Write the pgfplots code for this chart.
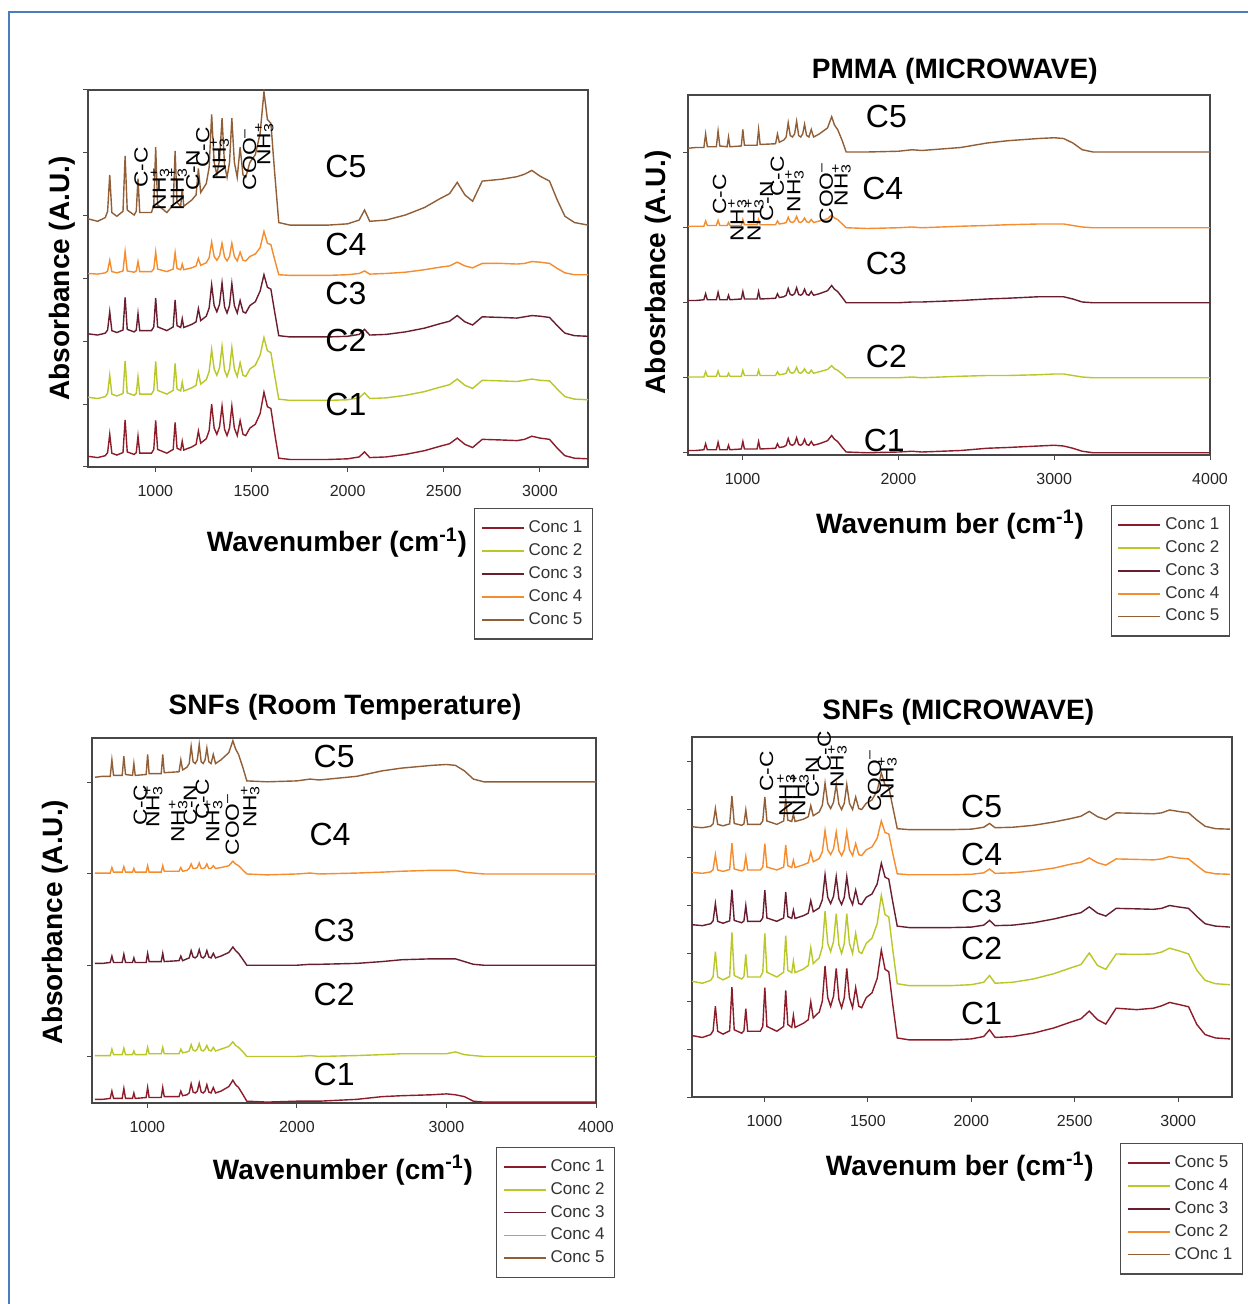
\documentclass[border=0pt]{standalone}
\usepackage{pgfplots}
\pgfplotsset{compat=1.18}
\usepackage{pgfplotstable}
\usepackage{graphicx}
\usepackage{fontspec}
\setmainfont{Liberation Sans}

\definecolor{concA}{RGB}{140,28,42}
\definecolor{concB}{RGB}{185,200,40}
\definecolor{concC}{RGB}{105,30,48}
\definecolor{concD}{RGB}{245,140,45}
\definecolor{concE}{RGB}{145,95,55}
\definecolor{frameblue}{RGB}{75,125,190}

% PMMA, room temperature
\pgfplotstableread{
x c1 c2 c3 c4 c5
650 0.17 1.11 2.12 3.08 3.95
700 0.15 1.09 2.10 3.07 3.91
740 0.18 1.12 2.13 3.09 3.97
752 0.23 1.17 2.18 3.12 4.07
763 0.52 1.46 2.47 3.29 4.65
774 0.22 1.16 2.17 3.11 4.05
800 0.19 1.13 2.14 3.09 3.99
832 0.23 1.17 2.18 3.12 4.07
843 0.75 1.69 2.70 3.43 4.95
854 0.24 1.18 2.19 3.12 4.09
890 0.20 1.14 2.15 3.10 4.01
901 0.23 1.17 2.18 3.12 4.07
910 0.49 1.43 2.44 3.27 4.59
919 0.22 1.16 2.17 3.11 4.05
980 0.22 1.16 2.17 3.11 4.05
992 0.28 1.22 2.23 3.15 4.17
1002 0.74 1.68 2.69 3.42 5.09
1012 0.28 1.22 2.23 3.15 4.17
1060 0.22 1.16 2.17 3.11 4.05
1093 0.28 1.22 2.23 3.15 4.17
1103 0.71 1.65 2.66 3.41 5.03
1113 0.30 1.24 2.25 3.16 4.21
1132 0.27 1.21 2.22 3.14 4.15
1140 0.41 1.35 2.36 3.23 4.43
1148 0.27 1.21 2.22 3.14 4.15
1190 0.32 1.26 2.27 3.17 4.25
1212 0.36 1.30 2.31 3.20 4.33
1224 0.57 1.51 2.52 3.32 4.75
1236 0.38 1.32 2.33 3.21 4.37
1265 0.45 1.39 2.40 3.25 4.51
1280 0.58 1.52 2.53 3.33 4.77
1293 1.00 1.87 2.90 3.58 5.61
1306 0.62 1.56 2.57 3.35 4.85
1320 0.52 1.46 2.47 3.29 4.65
1334 0.64 1.58 2.59 3.36 4.89
1347 0.97 1.92 2.93 3.56 5.55
1360 0.60 1.54 2.55 3.34 4.81
1373 0.50 1.44 2.45 3.28 4.61
1386 0.62 1.56 2.57 3.35 4.85
1398 0.97 1.90 2.92 3.56 5.55
1411 0.62 1.56 2.57 3.35 4.85
1426 0.50 1.44 2.45 3.28 4.61
1441 0.74 1.66 2.65 3.42 5.09
1456 0.52 1.46 2.47 3.29 4.65
1470 0.50 1.44 2.45 3.28 4.61
1492 0.62 1.56 2.57 3.35 4.85
1520 0.68 1.62 2.63 3.39 4.97
1545 0.85 1.78 2.80 3.49 5.31
1565 1.19 2.06 3.06 3.75 5.97
1583 0.96 1.85 2.86 3.56 5.53
1601 0.93 1.82 2.83 3.54 5.47
1620 0.55 1.47 2.48 3.31 4.71
1642 0.14 1.08 2.09 3.06 3.89
1700 0.12 1.06 2.07 3.05 3.85
1800 0.12 1.06 2.07 3.05 3.85
1900 0.12 1.06 2.07 3.05 3.85
2000 0.13 1.07 2.08 3.06 3.87
2060 0.16 1.10 2.11 3.08 3.93
2088 0.24 1.18 2.19 3.12 4.09
2115 0.15 1.09 2.10 3.07 3.91
2200 0.16 1.10 2.11 3.08 3.93
2300 0.20 1.14 2.15 3.10 4.01
2400 0.26 1.20 2.21 3.14 4.13
2480 0.33 1.27 2.28 3.18 4.27
2530 0.37 1.31 2.32 3.20 4.35
2570 0.46 1.40 2.41 3.26 4.53
2610 0.36 1.30 2.31 3.20 4.33
2650 0.31 1.25 2.26 3.17 4.23
2700 0.44 1.38 2.39 3.24 4.55
2800 0.43 1.37 2.38 3.24 4.58
2880 0.42 1.36 2.37 3.23 4.62
2920 0.44 1.38 2.39 3.24 4.66
2958 0.49 1.40 2.41 3.27 4.72
3000 0.46 1.38 2.40 3.26 4.63
3050 0.44 1.37 2.38 3.24 4.55
3090 0.30 1.24 2.25 3.16 4.25
3130 0.18 1.12 2.13 3.09 3.99
3180 0.14 1.08 2.09 3.06 3.89
3250 0.13 1.07 2.08 3.06 3.85
}\tabA

% PMMA, microwave
\pgfplotstableread{
x c1 c2 c3 c4 c5
650 0.03 1.01 2.03 3.02 4.06
700 0.03 1.01 2.03 3.02 4.07
752 0.04 1.01 2.04 3.02 4.07
763 0.12 1.08 2.12 3.09 4.25
774 0.04 1.02 2.04 3.03 4.08
832 0.04 1.02 2.04 3.03 4.08
843 0.14 1.09 2.14 3.10 4.29
854 0.04 1.02 2.04 3.03 4.09
901 0.04 1.02 2.04 3.03 4.08
910 0.10 1.06 2.10 3.07 4.21
919 0.04 1.02 2.04 3.03 4.08
992 0.05 1.02 2.05 3.03 4.09
1002 0.15 1.10 2.15 3.11 4.31
1012 0.05 1.03 2.05 3.04 4.10
1093 0.05 1.03 2.05 3.04 4.10
1103 0.15 1.10 2.15 3.11 4.31
1113 0.05 1.03 2.05 3.04 4.11
1212 0.06 1.03 2.06 3.04 4.12
1224 0.12 1.08 2.12 3.09 4.25
1236 0.07 1.04 2.07 3.05 4.14
1265 0.08 1.05 2.08 3.06 4.17
1280 0.10 1.06 2.10 3.07 4.21
1293 0.19 1.13 2.19 3.14 4.40
1306 0.11 1.07 2.11 3.08 4.23
1320 0.10 1.06 2.10 3.07 4.21
1334 0.12 1.08 2.12 3.09 4.25
1347 0.20 1.14 2.20 3.15 4.42
1360 0.11 1.07 2.11 3.08 4.23
1373 0.10 1.06 2.10 3.07 4.21
1386 0.12 1.08 2.12 3.09 4.25
1398 0.18 1.12 2.18 3.13 4.38
1411 0.11 1.07 2.11 3.08 4.23
1426 0.10 1.06 2.10 3.07 4.21
1441 0.15 1.10 2.15 3.11 4.31
1456 0.10 1.06 2.10 3.07 4.21
1492 0.12 1.08 2.12 3.09 4.25
1545 0.16 1.11 2.16 3.12 4.33
1572 0.23 1.16 2.23 3.17 4.48
1590 0.18 1.12 2.18 3.13 4.37
1610 0.15 1.10 2.15 3.11 4.31
1640 0.07 1.05 2.07 3.05 4.16
1665 0.01 1.00 2.00 3.00 4.01
1800 0.00 1.00 2.00 2.99 4.01
2000 0.01 1.00 2.00 3.00 4.02
2088 0.02 1.01 2.01 3.01 4.04
2150 0.01 1.00 2.01 3.00 4.03
2400 0.03 1.02 2.03 3.02 4.07
2570 0.06 1.03 2.05 3.03 4.13
2700 0.07 1.03 2.06 3.04 4.16
2900 0.09 1.04 2.08 3.05 4.19
3000 0.10 1.05 2.08 3.05 4.20
3060 0.09 1.05 2.08 3.05 4.19
3120 0.06 1.03 2.05 3.03 4.13
3180 0.02 1.01 2.01 3.01 4.04
3250 0.00 1.00 2.00 3.00 4.01
4000 0.00 1.00 2.00 3.00 4.01
}\tabB

% SNFs, room temperature
\pgfplotstableread{
x c1 c2 c3 c4 c5
650 0.53 1.01 2.02 3.01 4.06
700 0.53 1.01 2.02 3.01 4.07
752 0.54 1.01 2.03 3.01 4.07
763 0.62 1.08 2.10 3.07 4.25
774 0.54 1.02 2.03 3.02 4.08
832 0.54 1.02 2.03 3.02 4.08
843 0.65 1.09 2.12 3.08 4.29
854 0.54 1.02 2.03 3.02 4.09
901 0.54 1.02 2.03 3.02 4.08
910 0.60 1.06 2.08 3.06 4.21
919 0.54 1.02 2.03 3.02 4.08
992 0.55 1.02 2.03 3.02 4.09
1002 0.66 1.10 2.13 3.09 4.31
1012 0.55 1.03 2.04 3.02 4.10
1093 0.55 1.03 2.04 3.02 4.10
1103 0.66 1.10 2.13 3.09 4.31
1113 0.56 1.03 2.04 3.03 4.11
1212 0.56 1.03 2.05 3.03 4.12
1224 0.62 1.08 2.10 3.07 4.25
1236 0.57 1.04 2.05 3.03 4.14
1265 0.58 1.05 2.07 3.04 4.17
1280 0.60 1.06 2.08 3.06 4.21
1293 0.70 1.13 2.16 3.11 4.40
1306 0.61 1.07 2.09 3.06 4.23
1320 0.60 1.06 2.08 3.06 4.21
1334 0.62 1.08 2.10 3.07 4.25
1347 0.71 1.14 2.17 3.12 4.42
1360 0.61 1.07 2.09 3.06 4.23
1373 0.60 1.06 2.08 3.06 4.21
1386 0.62 1.08 2.10 3.07 4.25
1398 0.69 1.12 2.16 3.11 4.38
1411 0.61 1.07 2.09 3.06 4.23
1426 0.60 1.06 2.08 3.06 4.21
1441 0.66 1.10 2.13 3.09 4.31
1456 0.60 1.06 2.08 3.06 4.21
1492 0.62 1.08 2.10 3.07 4.25
1545 0.67 1.11 2.14 3.09 4.33
1572 0.74 1.16 2.20 3.14 4.46
1590 0.69 1.12 2.16 3.11 4.37
1610 0.66 1.10 2.13 3.09 4.31
1640 0.58 1.05 2.06 3.04 4.16
1665 0.51 1.00 2.00 3.00 4.02
1800 0.50 1.00 2.00 2.99 4.01
2000 0.51 1.00 2.00 3.00 4.02
2088 0.51 1.01 2.01 3.01 4.04
2150 0.51 1.00 2.01 3.00 4.03
2400 0.53 1.01 2.02 3.01 4.07
2570 0.56 1.02 2.04 3.02 4.13
2700 0.57 1.03 2.06 3.03 4.16
2900 0.58 1.03 2.07 3.04 4.19
3000 0.59 1.03 2.07 3.04 4.20
3060 0.58 1.05 2.07 3.04 4.19
3120 0.56 1.02 2.04 3.02 4.13
3180 0.51 1.01 2.01 3.01 4.04
3250 0.50 1.00 2.00 3.00 4.01
4000 0.50 1.00 2.00 3.00 4.01
}\tabC

% SNFs, microwave
\pgfplotstableread{
x c1 c2 c3 c4 c5
650 1.28 2.41 3.59 4.68 5.63
700 1.24 2.37 3.57 4.66 5.61
740 1.30 2.43 3.61 4.69 5.64
752 1.38 2.51 3.67 4.74 5.69
763 1.89 3.03 4.03 5.05 6.01
774 1.37 2.50 3.66 4.73 5.68
800 1.31 2.44 3.62 4.70 5.65
832 1.38 2.51 3.67 4.74 5.69
843 2.29 3.43 4.32 5.29 6.27
854 1.40 2.53 3.68 4.75 5.70
890 1.33 2.46 3.63 4.71 5.66
901 1.38 2.51 3.67 4.74 5.69
910 1.84 2.97 3.99 5.01 5.98
919 1.37 2.50 3.66 4.73 5.68
980 1.37 2.50 3.66 4.73 5.68
992 1.47 2.60 3.73 4.79 5.75
1002 2.28 3.41 4.31 5.28 6.25
1012 1.47 2.60 3.73 4.79 5.75
1060 1.37 2.50 3.66 4.73 5.68
1093 1.47 2.60 3.73 4.79 5.75
1103 2.22 3.36 4.27 5.25 6.22
1113 1.51 2.64 3.76 4.82 5.77
1132 1.45 2.59 3.72 4.78 5.74
1140 1.70 2.83 3.89 4.93 5.89
1148 1.45 2.59 3.72 4.78 5.74
1190 1.54 2.67 3.78 4.84 5.79
1212 1.61 2.74 3.83 4.88 5.84
1224 1.98 3.11 4.09 5.10 6.07
1236 1.65 2.78 3.86 4.90 5.86
1265 1.77 2.90 3.94 4.97 5.94
1280 2.00 3.13 4.11 5.11 6.08
1293 2.73 3.87 4.63 5.55 6.54
1306 2.07 3.20 4.16 5.15 6.12
1320 1.89 3.03 4.03 5.05 6.01
1334 2.10 3.24 4.18 5.17 6.14
1347 2.68 3.82 4.59 5.52 6.51
1360 2.03 3.17 4.13 5.13 6.10
1373 1.86 2.99 4.01 5.03 5.99
1386 2.07 3.20 4.16 5.15 6.12
1398 2.68 3.82 4.59 5.52 6.51
1411 2.07 3.20 4.16 5.15 6.12
1426 1.86 2.99 4.01 5.03 5.99
1441 2.28 3.41 4.31 5.28 6.25
1456 1.89 3.03 4.03 5.05 6.01
1470 1.86 2.99 4.01 5.03 5.99
1492 2.07 3.20 4.16 5.15 6.12
1520 2.17 3.31 4.23 5.21 6.19
1545 2.47 3.61 4.44 5.39 6.38
1565 3.06 4.20 4.87 5.75 6.75
1583 2.66 3.80 4.58 5.51 6.50
1601 2.61 3.75 4.54 5.48 6.46
1620 1.94 3.08 4.07 5.08 6.05
1642 1.23 2.36 3.56 4.65 5.59
1700 1.19 2.32 3.53 4.63 5.57
1800 1.19 2.32 3.53 4.63 5.57
1900 1.19 2.32 3.53 4.63 5.57
2000 1.21 2.34 3.54 4.64 5.58
2060 1.26 2.39 3.58 4.67 5.62
2088 1.40 2.53 3.68 4.75 5.70
2115 1.24 2.37 3.57 4.66 5.61
2200 1.26 2.39 3.58 4.67 5.62
2300 1.33 2.46 3.63 4.71 5.66
2400 1.44 2.57 3.71 4.77 5.73
2480 1.56 2.69 3.79 4.85 5.80
2530 1.63 2.76 3.84 4.89 5.85
2570 1.79 3.00 3.96 4.98 5.95
2610 1.61 2.74 3.83 4.88 5.84
2650 1.52 2.66 3.77 4.83 5.78
2700 1.85 2.98 3.93 4.96 5.92
2800 1.82 2.97 3.92 4.95 5.91
2880 1.85 2.98 3.91 4.94 5.90
2920 1.90 3.02 3.93 4.96 5.92
2958 1.97 3.10 3.99 5.01 5.98
3000 1.93 3.05 3.96 4.98 5.95
3050 1.88 2.98 3.93 4.96 5.92
3090 1.51 2.64 3.76 4.82 5.77
3130 1.30 2.43 3.61 4.69 5.64
3180 1.23 2.36 3.56 4.65 5.59
3250 1.21 2.34 3.54 4.64 5.58
}\tabD

\newcommand{\nh}{NH\rlap{\textsubscript{3}}\textsuperscript{+}}
\newcommand{\coo}{COO\textsuperscript{--}}
% vertical band assignment at (wavenumber, height)
\newcommand{\band}[3]{\node[rotate=90,anchor=west,inner sep=0pt,font=\fontsize{9.5}{10}\selectfont] at (axis cs:#1,#2) {\scalebox{1.2}[1]{#3}};}
% curve name at (wavenumber, height)
\newcommand{\clab}[3]{\node[inner sep=0pt,font=\fontsize{16}{16}\selectfont] at (axis cs:#1,#2) {#3};}

\pgfplotsset{
  panel/.style={
    scale only axis, anchor=north west, clip mode=individual,
    axis line style={black!72, line width=0.6pt},
    tick style={black!72, line width=0.5pt},
    tick align=outside, major tick length=2.5pt, tick pos=left,
    yticklabels={},
    scaled x ticks=false,
    /pgf/number format/assume math mode=true,
    /pgf/number format/1000 sep={},
    xticklabel style={font=\fontsize{8}{9}\selectfont, text=black!85, yshift=-3pt},
    label style={font=\bfseries\fontsize{14}{16}\selectfont, anchor=center},
    title style={font=\bfseries\fontsize{14}{16}\selectfont, anchor=center, yshift=0pt},
    legend cell align=left,
    legend style={draw=black!70, line width=0.6pt, font=\fontsize{8.5}{9}\selectfont, text=black!80,
      inner xsep=3pt, inner ysep=4pt, row sep=0pt, anchor=north east},
    legend image code/.code={\draw[##1,line width=0.9pt] (0pt,0pt) -- (21pt,0pt);},
    every axis plot/.append style={line width=0.7pt},
  }
}

\begin{document}
\begin{tikzpicture}
\useasboundingbox (0,0) rectangle (624pt,-652pt);
\fill[white] (0,0) rectangle (624pt,-652pt);
\draw[frameblue, line width=1pt] (4.7pt,-652pt) -- (4.7pt,-5.9pt) -- (624pt,-5.9pt);

% ---------- PMMA, room temperature ----------
\begin{axis}[panel, at={(44pt,-45pt)}, width=250pt, height=188.5pt,
  xmin=650, xmax=3250, ymin=0, ymax=6,
  xtick={1000,1500,2000,2500,3000}, ytick={0,1,2,3,4,5,6},
  xlabel={Wavenumber (cm\textsuperscript{-1})},
  xlabel style={at={(axis description cs:0.498,-0.2)}},
  ylabel={Absorbance (A.U.)},
  ylabel style={at={(axis description cs:-0.052,0.5)}},
  legend style={at={(1.01,-0.109)}}]
\addplot[concA] table[x=x,y=c1]{\tabA};
\addplot[concB] table[x=x,y=c2]{\tabA};
\addplot[concC] table[x=x,y=c3]{\tabA};
\addplot[concD] table[x=x,y=c4]{\tabA};
\addplot[concE] table[x=x,y=c5]{\tabA};
\legend{Conc 1,Conc 2,Conc 3,Conc 4,Conc 5}
\clab{1991}{4.78}{C5}
\clab{1991}{3.54}{C4}
\clab{1991}{2.76}{C3}
\clab{1991}{2.01}{C2}
\clab{1991}{1.00}{C1}
\band{926}{4.44}{C-C}
\band{1024}{4.08}{\nh}
\band{1117}{4.08}{\nh}
\band{1195}{4.40}{C-N}
\band{1247}{4.76}{C-C}
\band{1335}{4.56}{\nh}
\band{1490}{4.40}{\coo}
\band{1567}{4.79}{\nh}
\end{axis}

% ---------- PMMA, microwave ----------
\begin{axis}[panel, at={(344pt,-47.5pt)}, width=261pt, height=180pt,
  xmin=650, xmax=4000, ymin=-0.03, ymax=4.77,
  xtick={1000,2000,3000,4000}, ytick={0,1,2,3,4},
  title={PMMA (MICROWAVE)},
  title style={at={(axis description cs:0.511,1.033)}},
  xlabel={Wavenum ber (cm\textsuperscript{-1})},
  xlabel style={at={(axis description cs:0.502,-0.194)}},
  ylabel={Abosrbance (A.U.)},
  ylabel style={at={(axis description cs:-0.057,0.508)}},
  legend style={at={(1.038,-0.139)}}]
\addplot[concA] table[x=x,y=c1]{\tabB};
\addplot[concB] table[x=x,y=c2]{\tabB};
\addplot[concC] table[x=x,y=c3]{\tabB};
\addplot[concD] table[x=x,y=c4]{\tabB};
\addplot[concE] table[x=x,y=c5]{\tabB};
\legend{Conc 1,Conc 2,Conc 3,Conc 4,Conc 5}
\clab{1923}{4.49}{C5}
\clab{1900}{3.52}{C4}
\clab{1923}{2.53}{C3}
\clab{1923}{1.28}{C2}
\clab{1910}{0.16}{C1}
\band{853}{3.17}{C-C}
\band{968}{2.81}{\nh}
\band{1077}{2.81}{\nh}
\band{1154}{3.08}{C-N}
\band{1224}{3.41}{C-C}
\band{1333}{3.20}{\nh}
\band{1538}{3.04}{\coo}
\band{1635}{3.28}{\nh}
\end{axis}

% ---------- SNFs, room temperature ----------
\begin{axis}[panel, at={(46pt,-369pt)}, width=252pt, height=182.5pt,
  xmin=630, xmax=4000, ymin=0.49, ymax=4.49,
  xtick={1000,2000,3000,4000}, ytick={1,2,3,4},
  title={SNFs (Room Temperature)},
  title style={at={(axis description cs:0.502,1.052)}},
  xlabel={Wavenumber (cm\textsuperscript{-1})},
  xlabel style={at={(axis description cs:0.498,-0.184)}},
  ylabel={Absorbance (A.U.)},
  ylabel style={at={(axis description cs:-0.073,0.496)}},
  legend style={at={(1.038,-0.12)}}]
\addplot[concA] table[x=x,y=c1]{\tabC};
\addplot[concB] table[x=x,y=c2]{\tabC};
\addplot[concC] table[x=x,y=c3]{\tabC};
\addplot[concD] table[x=x,y=c4]{\tabC};
\addplot[concE] table[x=x,y=c5]{\tabC};
\legend{Conc 1,Conc 2,Conc 3,Conc 4,Conc 5}
\clab{2249}{4.29}{C5}
\clab{2222}{3.43}{C4}
\clab{2249}{2.38}{C3}
\clab{2249}{1.68}{C2}
\clab{2249}{0.80}{C1}
\band{953}{3.53}{C-C}
\band{1040}{3.50}{\nh}
\band{1207}{3.34}{\nh}
\band{1287}{3.53}{C-N}
\band{1367}{3.59}{C-C}
\band{1441}{3.34}{\nh}
\band{1568}{3.20}{\coo}
\band{1688}{3.50}{\nh}
\end{axis}

% ---------- SNFs, microwave ----------
\begin{axis}[panel, at={(346pt,-368.5pt)}, width=270pt, height=180pt,
  xmin=650, xmax=3260, ymin=0, ymax=7.5,
  xtick={1000,1500,2000,2500,3000}, ytick={0,1,2,3,4,5,6,7},
  title={SNFs (MICROWAVE)},
  title style={at={(axis description cs:0.493,1.036)}},
  xlabel={Wavenum ber (cm\textsuperscript{-1})},
  xlabel style={at={(axis description cs:0.496,-0.194)}},
  legend style={at={(1.02,-0.128)}}]
\addplot[concA] table[x=x,y=c1]{\tabD};
\addplot[concB] table[x=x,y=c2]{\tabD};
\addplot[concC] table[x=x,y=c3]{\tabD};
\addplot[concD] table[x=x,y=c4]{\tabD};
\addplot[concE] table[x=x,y=c5]{\tabD};
\legend{Conc 5,Conc 4,Conc 3,Conc 2,COnc 1}
\clab{2050}{6.06}{C5}
\clab{2050}{5.06}{C4}
\clab{2050}{4.08}{C3}
\clab{2050}{3.10}{C2}
\clab{2050}{1.75}{C1}
\band{1010}{6.35}{C-C}
\band{1106}{5.83}{\nh}
\band{1169}{5.83}{\nh}
\band{1232}{6.23}{C-N}
\band{1290}{6.77}{C-C}
\band{1353}{6.44}{\nh}
\band{1532}{5.94}{\coo}
\band{1595}{6.19}{\nh}
\end{axis}
\end{tikzpicture}
\end{document}
